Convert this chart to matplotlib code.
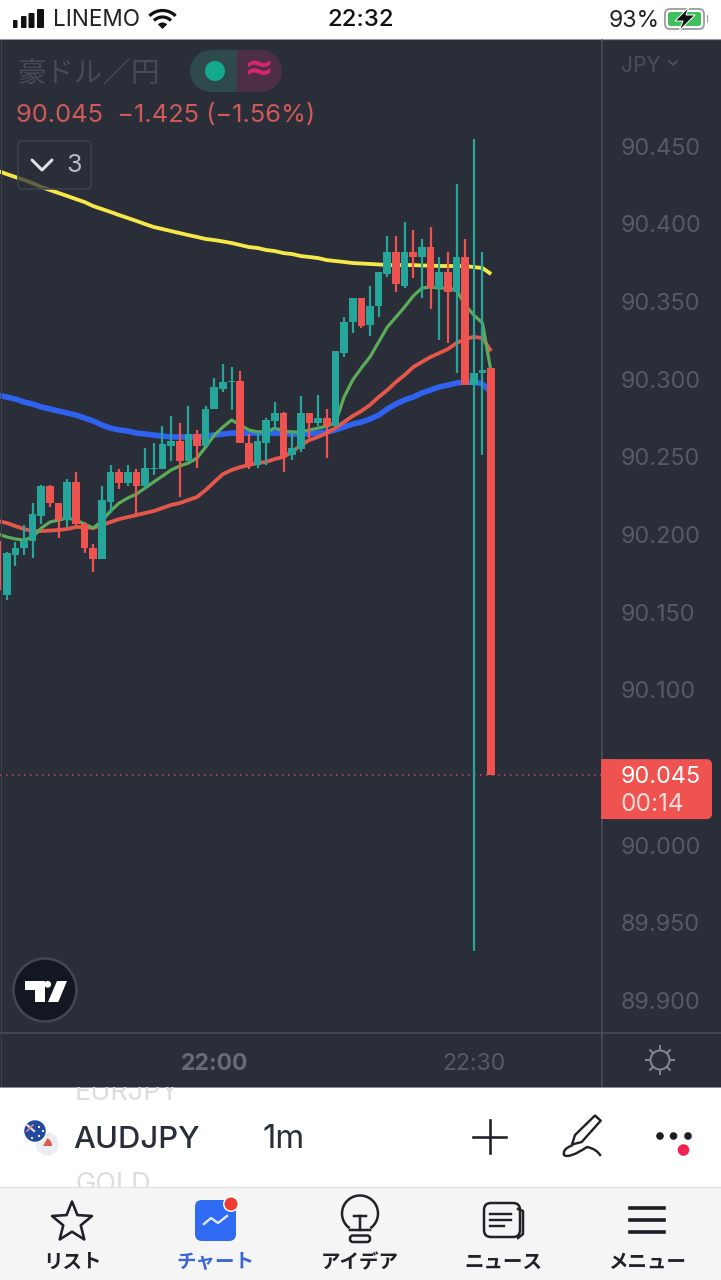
import numpy as np
import matplotlib
matplotlib.use("Agg")
import matplotlib.pyplot as plt
from matplotlib.patches import Rectangle, FancyBboxPatch, Circle, Polygon, Arc, Wedge
from matplotlib.path import Path
from matplotlib.patches import PathPatch

W, H = 721, 1280

# One-minute AUD/JPY candles; minute 0 is 21:36, so minute 24 is 22:00.
minutes = list(range(-1, 57))
opens = [90.196,90.161,90.187,90.191,90.196,90.212,90.231,90.220,90.209,90.234,90.207,90.191,90.184,90.221,90.240,90.233,
         90.240,90.231,90.242,90.242,90.257,90.260,90.247,90.265,90.257,90.281,90.294,90.298,90.299,90.259,90.245,90.259,
         90.273,90.278,90.251,90.255,90.278,90.272,90.275,90.270,90.317,90.337,90.352,90.335,90.347,90.368,90.382,90.360,
         90.382,90.379,90.385,90.359,90.369,90.356,90.379,90.296,90.304,90.307]
highs = [90.199,90.189,90.195,90.206,90.220,90.232,90.232,90.220,90.236,90.240,90.208,90.194,90.231,90.245,90.242,90.245,
         90.242,90.256,90.259,90.270,90.276,90.272,90.283,90.267,90.283,90.301,90.310,90.308,90.305,90.265,90.266,90.275,
         90.285,90.279,90.266,90.289,90.278,90.290,90.281,90.318,90.340,90.352,90.352,90.360,90.369,90.392,90.392,90.401,
         90.396,90.390,90.398,90.379,90.382,90.426,90.390,90.455,90.382,90.307]
lows = [90.161,90.158,90.180,90.187,90.185,90.207,90.218,90.198,90.205,90.206,90.188,90.176,90.184,90.214,90.229,90.231,
        90.213,90.229,90.238,90.242,90.247,90.224,90.247,90.243,90.257,90.281,90.292,90.280,90.259,90.242,90.243,90.245,
        90.267,90.240,90.248,90.253,90.262,90.270,90.249,90.270,90.314,90.330,90.333,90.328,90.340,90.366,90.356,90.359,
        90.365,90.352,90.345,90.325,90.323,90.304,90.296,89.932,90.251,90.045]
closes = [90.164,90.188,90.191,90.196,90.213,90.231,90.220,90.209,90.234,90.207,90.191,90.184,90.222,90.240,90.233,90.240,
          90.231,90.243,90.243,90.258,90.260,90.247,90.265,90.257,90.281,90.295,90.298,90.299,90.259,90.245,90.260,90.274,
          90.278,90.250,90.256,90.278,90.272,90.275,90.270,90.318,90.337,90.352,90.334,90.347,90.369,90.382,90.361,90.382,
          90.379,90.385,90.359,90.369,90.356,90.379,90.296,90.304,90.306,90.045]

# Moving averages, one value per minute.
ma_yellow = [90.4341,90.4321,90.4302,90.4283,90.4263,90.4238,90.4218,90.4199,90.4180,90.4160,90.4141,90.4115,90.4096,90.4077,
             90.4057,90.4038,90.4019,90.3999,90.3980,90.3967,90.3954,90.3941,90.3928,90.3916,90.3903,90.3896,90.3887,90.3877,
             90.3864,90.3851,90.3845,90.3832,90.3825,90.3812,90.3806,90.3793,90.3787,90.3780,90.3767,90.3761,90.3755,90.3748,
             90.3745,90.3742,90.3739,90.3735,90.3735,90.3735,90.3735,90.3732,90.3732,90.3729,90.3729,90.3729,90.3729,90.3722,
             90.3716,90.3677]
ma_blue = [90.2898,90.2885,90.2872,90.2853,90.2840,90.2821,90.2808,90.2795,90.2782,90.2769,90.2750,90.2731,90.2705,90.2685,
           90.2673,90.2666,90.2653,90.2647,90.2640,90.2634,90.2628,90.2628,90.2628,90.2628,90.2634,90.2640,90.2647,90.2653,
           90.2653,90.2653,90.2653,90.2653,90.2653,90.2650,90.2647,90.2647,90.2650,90.2653,90.2660,90.2673,90.2692,90.2711,
           90.2724,90.2743,90.2769,90.2808,90.2840,90.2866,90.2885,90.2911,90.2930,90.2950,90.2962,90.2975,90.2982,90.2982,
           90.2969,90.2917]
ma_red = [90.2087,90.2074,90.2054,90.2035,90.2022,90.2022,90.2025,90.2029,90.2035,90.2048,90.2048,90.2041,90.2061,90.2080,
          90.2099,90.2112,90.2125,90.2138,90.2151,90.2170,90.2190,90.2202,90.2222,90.2241,90.2286,90.2338,90.2389,90.2415,
          90.2434,90.2447,90.2460,90.2467,90.2486,90.2499,90.2531,90.2576,90.2608,90.2628,90.2653,90.2685,90.2724,90.2763,
          90.2795,90.2834,90.2885,90.2930,90.2982,90.3027,90.3078,90.3111,90.3143,90.3168,90.3194,90.3233,90.3259,90.3272,
          90.3265,90.3181]
ma_green = [90.2003,90.1984,90.1971,90.1964,90.1984,90.2041,90.2080,90.2093,90.2106,90.2093,90.2067,90.2041,90.2087,90.2151,
            90.2202,90.2235,90.2260,90.2299,90.2338,90.2376,90.2415,90.2441,90.2460,90.2492,90.2563,90.2640,90.2692,90.2737,
            90.2705,90.2673,90.2660,90.2660,90.2685,90.2666,90.2660,90.2660,90.2673,90.2685,90.2698,90.2718,90.2885,90.2995,
            90.3072,90.3143,90.3239,90.3336,90.3400,90.3465,90.3536,90.3587,90.3594,90.3587,90.3587,90.3574,90.3478,90.3413,
            90.3362,90.3046]

price_ticks = [89.90, 89.95, 90.00, 90.10, 90.15, 90.20, 90.25, 90.30, 90.35, 90.40, 90.45]
time_ticks = [24, 54]
time_labels = ["22:00", "22:30"]
change = -1.425
change_pct = -1.56
countdown = "00:14"

BG = "#2a2e39"
UP = "#26a69a"
DOWN = "#ef5350"
RULE = "#4c505b"
AXIS_TEXT = "#565a65"
INK = "#1f2229"
LATIN = ["Inter", "Noto Sans CJK JP", "DejaVu Sans"]
CJK = ["Noto Sans CJK JP", "DejaVu Sans"]


def fs(px):
    return px * 0.72


def lw(px):
    return px * 0.72


fig = plt.figure(figsize=(W / 100, H / 100), dpi=100, facecolor="white")


def px_axes(z):
    a = fig.add_axes([0, 0, 1, 1], zorder=z)
    a.set_xlim(0, W)
    a.set_ylim(H, 0)
    a.axis("off")
    a.patch.set_alpha(0)
    return a


back = px_axes(0)
front = px_axes(2)

# Backdrop bands of the app screen.
back.add_patch(Rectangle((0, 39), W, 1047.5, fc=BG, ec="none"))
back.add_patch(Rectangle((0, 1187), W, 93, fc="#f5f5f6", ec="none"))
back.plot([0, W], [39, 39], color="#9a9da5", lw=lw(1.2))
back.plot([0, W], [1186.5, 1186.5], color="#e2e3e6", lw=lw(1.2))
back.plot([0, W], [1086.5, 1086.5], color="#8c8f97", lw=lw(1))
back.plot([602, 602], [40, 1086], color=RULE, lw=lw(1.5))
back.plot([0, W], [1033, 1033], color=RULE, lw=lw(1.5))

# Price chart area.
chart = fig.add_axes([0, (H - 1032) / H, 601 / W, (1032 - 40) / H], zorder=1, facecolor=BG)
x0, step = 6.7, 8.65
chart.set_xlim(-x0 / step, (601 - x0) / step)
chart.set_ylim(90 + (845 - 1032) / 1552.7, 90 + (845 - 40) / 1552.7)
for s in chart.spines.values():
    s.set_visible(False)

chart.plot(minutes, ma_yellow, color="#f7e84a", lw=lw(3.8), solid_capstyle="butt", solid_joinstyle="round", zorder=2)
chart.plot(minutes, ma_blue, color="#2f62ee", lw=lw(5.6), solid_capstyle="butt", solid_joinstyle="round", zorder=2)
chart.plot(minutes, ma_red, color="#e5574b", lw=lw(3.8), solid_capstyle="butt", solid_joinstyle="round", zorder=2.1)
chart.plot(minutes, ma_green, color="#5cab58", lw=lw(3.2), solid_capstyle="butt", solid_joinstyle="round", zorder=2.2)

last_close = closes[-1]
chart.axhline(last_close, color=DOWN, lw=lw(1.5), ls=(0, (1, 3)), alpha=0.85, zorder=1.5)

colors = [UP if c >= o else DOWN for o, c in zip(opens, closes)]
chart.vlines(minutes, lows, highs, colors=colors, lw=lw(2.2), zorder=3)
bottoms = [min(o, c) for o, c in zip(opens, closes)]
heights = [abs(c - o) for o, c in zip(opens, closes)]
chart.bar(minutes, heights, bottom=bottoms, width=0.88, color=colors, zorder=3.1)

chart.yaxis.tick_right()
chart.set_yticks(price_ticks, [f"{p:.3f}" for p in price_ticks])
chart.set_xticks(time_ticks, time_labels)
chart.tick_params(axis="y", length=0, pad=14, labelcolor=AXIS_TEXT, labelsize=fs(23.4))
chart.tick_params(axis="x", length=0, pad=15, labelcolor=AXIS_TEXT, labelsize=fs(23))
for t in chart.get_yticklabels() + chart.get_xticklabels():
    t.set_family(LATIN)
chart.get_xticklabels()[0].set_color("#676b76")
chart.get_xticklabels()[0].set_fontweight("bold")

fig.canvas.draw()
tag_y = H - chart.transData.transform((0, last_close))[1]

# Last-price tag on the scale.
front.add_patch(FancyBboxPatch((606, tag_y - 11), 101, 50, boxstyle="round,pad=0,rounding_size=0.1",
                               fc=DOWN, ec=DOWN, lw=lw(10), joinstyle="round"))
front.add_patch(Rectangle((601, tag_y - 16), 10, 60, fc=DOWN, ec="none"))
front.text(621, tag_y + 2, f"{last_close:.3f}", color="#ffffff", fontsize=fs(23.4), family=LATIN, va="center")
front.text(621, tag_y + 29, countdown, color="#ffd9d8", fontsize=fs(24.5), family=LATIN, va="center")

# Status bar.
for bx, by, bw in zip([13, 21, 28.5, 37], [20, 16, 13, 9], [4.5, 5.5, 6, 7]):
    front.add_patch(FancyBboxPatch((bx, by), bw, 28 - by, boxstyle="round,pad=0,rounding_size=1", fc="#111111", ec="none"))
front.text(53, 20, "LINEMO", color="#222222", fontsize=fs(22.5), family=LATIN, va="center")
for rad in [18.5, 12]:
    front.add_patch(Arc((162.5, 29), rad * 2, rad * 2, theta1=-135, theta2=-45, color="#111111", lw=lw(3.2)))
front.add_patch(Wedge((162.5, 29), 6.5, 225, 315, fc="#111111", ec="none"))
front.text(360.5, 20, "22:32", color="#111111", fontsize=fs(24), family=LATIN, ha="center", va="center", fontweight="medium")
front.text(660, 21, "93%", color="#222222", fontsize=fs(23), family=LATIN, ha="right", va="center")
front.add_patch(FancyBboxPatch((665, 9), 39, 20, boxstyle="round,pad=0,rounding_size=5", fc="white", ec="#9a9a9a", lw=lw(1.8)))
front.add_patch(FancyBboxPatch((668, 12), 33, 14, boxstyle="round,pad=0,rounding_size=2.5", fc="#3fc05a", ec="none"))
front.add_patch(Rectangle((706.5, 15), 1.6, 8, fc="#9a9a9a", ec="none"))
front.add_patch(Polygon([(689, 7), (675, 21), (683, 21), (679, 31), (695, 15), (686, 15)], closed=True, fc="#111111", ec="white", lw=lw(1)))

# Symbol header.
front.text(17, 73.5, "豪ドル／円", color="#474b55", fontsize=fs(28.5), family=CJK, va="center")
front.add_patch(Wedge((211, 71), 21, 90, 270, fc="#2e4a4c", ec="none"))
front.add_patch(Rectangle((211, 50), 25.5, 42, fc="#2e4a4c", ec="none"))
front.add_patch(Rectangle((236.5, 50), 24.5, 42, fc="#4c2f46", ec="none"))
front.add_patch(Wedge((261, 71), 21, 270, 90, fc="#4c2f46", ec="none"))
front.add_patch(Circle((215, 71), 10, fc="#12a98c", ec="none"))
front.text(258, 70, "≈", color="#d8246e", fontsize=fs(36), family=["DejaVu Sans"], ha="center", va="center", fontweight="bold")
prev_text = f"{last_close:.3f}  \u2212{abs(change):.3f} (\u2212{abs(change_pct):.2f}%)"
front.text(16, 115.5, prev_text, color="#cf5a58", fontsize=fs(25.4), family=LATIN, va="center")

# Indicator collapse button.
front.add_patch(FancyBboxPatch((18, 141), 73, 48, boxstyle="round,pad=0,rounding_size=4", fc=BG, alpha=0.72, ec="none"))
front.add_patch(FancyBboxPatch((18, 141), 73, 48, boxstyle="round,pad=0,rounding_size=4", fc="none", ec="#3e424d", lw=lw(1.5)))
front.plot([32, 42, 52], [160, 170, 160], color="#dfe1e6", lw=lw(3), solid_capstyle="round", solid_joinstyle="round")
front.text(74, 166, "3", color="#b8bbc3", fontsize=fs(25), family=LATIN, ha="center", va="center")

# Left edge hairline, currency selector and settings icon.
front.plot([0.5, 0.5], [40, 1086], color="#3d414c", lw=lw(1))
front.text(621, 66, "JPY", color="#4a4e59", fontsize=fs(21), family=LATIN, va="center")
front.plot([669, 673, 677], [61, 65, 61], color="#4a4e59", lw=lw(2))
sun = (660, 1060)
front.add_patch(Circle(sun, 9.5, fc="none", ec="#82858e", lw=lw(2)))
for a in np.deg2rad(np.arange(0, 360, 45)):
    front.plot([sun[0] + 10 * np.cos(a), sun[0] + 14 * np.cos(a)], [sun[1] + 10 * np.sin(a), sun[1] + 14 * np.sin(a)],
               color="#82858e", lw=lw(2))

# Watermark badge.
front.add_patch(Circle((45, 990), 31.5, fc="#131722", ec="#434751", lw=lw(2.5)))
front.add_patch(Polygon([(25, 981), (44.5, 981), (44.5, 1002), (34.5, 1002), (34.5, 989.5), (25, 989.5)], closed=True, fc="white", ec="none"))
front.add_patch(Circle((47.7, 984.3), 3.4, fc="white", ec="none"))
front.add_patch(Polygon([(57, 981), (67, 981), (58.3, 1002), (48, 1002)], closed=True, fc="white", ec="none"))

# Symbol picker row.
front.add_patch(Circle((47, 1144), 11.5, fc="#ecedf2", ec="none"))
front.add_patch(Wedge((43, 1146), 9, -60, 0, fc="#e2574c", ec="none"))
front.add_patch(Circle((35, 1131), 11.5, fc="#1f4aa0", ec="white", lw=lw(1.5)))
front.plot([27, 34], [1125, 1131], color="#f2dada", lw=lw(2.2))
front.plot([27, 33], [1131, 1125], color="#e58c92", lw=lw(1.6))
for sx, sy in [(39, 1127), (43, 1131), (39, 1136), (32, 1138)]:
    front.add_patch(Circle((sx, sy), 1.1, fc="white", ec="none"))
clip_rect = Rectangle((0, 1087), W, 99.5, transform=front.transData)
t1 = front.text(75, 1092.5, "EURJPY", color="#dcdde0", fontsize=fs(27), family=LATIN, va="center")
t2 = front.text(75, 1185, "GOLD", color="#dcdde0", fontsize=fs(27), family=LATIN, va="center")
for clipped in (t1, t2):
    clipped.set_clip_path(clip_rect)
    clipped.set_clip_on(True)
front.text(73, 1139.5, "AUDJPY", color="#2a2e39", fontsize=fs(31), family=LATIN, va="center", fontweight="medium")
front.text(262, 1139.5, "1m", color="#2a2e39", fontsize=fs(33), family=LATIN, va="center")
front.plot([473, 506], [1137, 1137], color=INK, lw=lw(2.6))
front.plot([489.5, 489.5], [1120, 1153], color=INK, lw=lw(2.6))

# Drawing tools pen.
pen = Polygon([(575, 1135), (595, 1115.5), (600.7, 1120.7), (581.7, 1142), (572, 1144.5)], closed=True, fc="none", ec=INK, lw=lw(2.4), joinstyle="round")
front.add_patch(pen)
curve = Path([(573, 1145), (562, 1149), (564, 1155), (569, 1159), (587, 1147), (597, 1149), (600.7, 1156)],
             [Path.MOVETO, Path.CURVE3, Path.CURVE3, Path.CURVE3, Path.CURVE3, Path.CURVE3, Path.CURVE3])
front.add_patch(PathPatch(curve, fc="none", ec=INK, lw=lw(2.4)))

for cx in [660, 673.5, 688]:
    front.add_patch(Circle((cx, 1136), 3.8, fc="#1b1d24", ec="none"))
front.add_patch(Circle((683.5, 1150), 5.8, fc="#f0244f", ec="none"))

# Bottom tab bar.
tab_x = [72, 215, 359.5, 503, 647]
tab_names = ["リスト", "チャート", "アイデア", "ニュース", "メニュー"]
for tx, name in zip(tab_x, tab_names):
    col = "#3a66d6" if name == "チャート" else INK
    front.text(tx, 1262.5, name, color=col, fontsize=fs(19.5), family=CJK, fontweight="bold", ha="center", va="center")

angles = np.deg2rad(np.arange(-90, 270, 36))
radii = np.array([21, 9.2] * 5)
star = np.c_[72 + radii * np.cos(angles), 1222.5 + radii * np.sin(angles)]
front.add_patch(Polygon(star, closed=True, fc="none", ec=INK, lw=lw(2.6), joinstyle="round"))

front.add_patch(FancyBboxPatch((195, 1200), 41, 41, boxstyle="round,pad=0,rounding_size=7", fc="#2f6bf2", ec="none"))
front.plot([204, 211, 218, 227], [1224, 1218, 1223, 1216], color="#dfe8ff", lw=lw(2.4), solid_joinstyle="round")
front.add_patch(Circle((231, 1204), 8, fc="white", ec="none"))
front.add_patch(Circle((231, 1204), 6.5, fc="#ee3b34", ec="none"))

# Ideas bulb.
front.add_patch(Arc((360, 1213.5), 36, 36, theta1=125, theta2=55, color=INK, lw=lw(2.5)))
front.plot([354, 366], [1216, 1216], color=INK, lw=lw(2.5))
front.plot([360, 360], [1216, 1230], color=INK, lw=lw(2.5))
front.plot([350, 370], [1230, 1230], color=INK, lw=lw(2.5))
front.add_patch(FancyBboxPatch((350, 1235.5), 20, 6.5, boxstyle="round,pad=0,rounding_size=3", fc="none", ec=INK, lw=lw(2.5)))

# News sheet.
front.add_patch(FancyBboxPatch((484, 1203), 36, 34, boxstyle="round,pad=0,rounding_size=7", fc="none", ec=INK, lw=lw(2.5)))
front.plot([518, 523, 523, 518], [1209, 1211, 1234, 1238], color=INK, lw=lw(2.5))
front.plot([490, 511], [1214, 1214], color=INK, lw=lw(2.4))
front.plot([490, 511], [1220, 1220], color=INK, lw=lw(2.4))
front.plot([490, 504], [1226, 1226], color=INK, lw=lw(2.4))

# Menu bars.
for my in [1207.5, 1220, 1232]:
    front.plot([630, 664], [my, my], color="#1b1d24", lw=lw(3.6))

fig.savefig("out.png", dpi=100, facecolor="white")
